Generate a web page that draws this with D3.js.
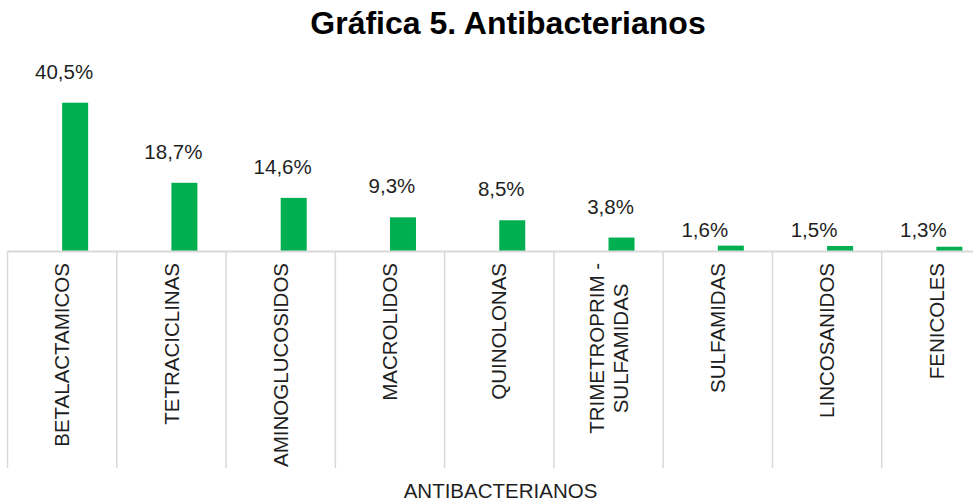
<!DOCTYPE html>
<html>
<head>
<meta charset="utf-8">
<script src="https://cdn.jsdelivr.net/npm/d3@7"></script>
<style>
    body { margin: 0; background: #fff; }
    svg { display: block; font-family: "Liberation Sans", Arial, sans-serif; }
</style>
</head>
<body>
<div id="chart"></div>
<script>
// data
const categories = [
    "BETALACTAMICOS", "TETRACICLINAS", "AMINOGLUCOSIDOS", "MACROLIDOS", "QUINOLONAS",
    "TRIMETROPRIM -\nSULFAMIDAS", "SULFAMIDAS", "LINCOSANIDOS", "FENICOLES"
];
const values = [40.5, 18.7, 14.6, 9.3, 8.5, 3.8, 1.6, 1.5, 1.3];
const title = "Gráfica 5. Antibacterianos";
const axisTitle = "ANTIBACTERIANOS";

const data = categories.map((c, i) => ({ name: c, value: values[i] }));

const width = 973, height = 502;
const baseY = 251.5;
const green = "#00b050", grid = "#d9d9d9", ink = "#1f1f1f";
const fontSize = "20.5px";

// decimal comma
const fmt = d3.formatLocale({ decimal: ",", thousands: ".", grouping: [3], currency: ["", ""] }).format(".1f");

const svg = d3.select("#chart").append("svg")
    .attr("width", width)
    .attr("height", height);

// plot area runs off the right edge, like the original
const x = d3.scaleBand()
    .domain(categories)
    .range([7.5, 991])
    .padding(0);

const y = d3.scaleLinear()
    .domain([0, 45])
    .range([baseY, baseY - 45 * 3.674]);

const bw = x.bandwidth();
const barW = bw * 0.238;

// title
svg.append("text")
    .attr("x", 508)
    .attr("y", 34)
    .attr("text-anchor", "middle")
    .style("font-size", "32px")
    .style("font-weight", "bold")
    .style("fill", "#000")
    .text(title);

// bars sit in the right half of each category slot
svg.append("g")
    .selectAll("rect")
    .data(data)
    .enter().append("rect")
    .attr("x", d => x(d.name) + bw / 2)
    .attr("y", d => y(d.value))
    .attr("width", barW)
    .attr("height", d => baseY - y(d.value))
    .attr("fill", green);

// category separators
const edges = categories.map(c => x(c)).concat([x(categories[categories.length - 1]) + bw]);
svg.append("g")
    .selectAll("line")
    .data(edges)
    .enter().append("line")
    .attr("x1", d => d).attr("x2", d => d)
    .attr("y1", baseY).attr("y2", 468)
    .attr("stroke", grid)
    .attr("stroke-width", 1.5);

// axis line
svg.append("line")
    .attr("x1", x.range()[0]).attr("x2", x.range()[1])
    .attr("y1", baseY).attr("y2", baseY)
    .attr("stroke", grid)
    .attr("stroke-width", 2);

// value labels
svg.append("g")
    .selectAll("text")
    .data(data)
    .enter().append("text")
    .attr("x", d => d.value < 2 ? x(d.name) + bw / 2 - barW / 2 : x(d.name) + bw / 2 + 2)
    .attr("y", d => d.value < 2 ? baseY - 15 : y(d.value) - 24)
    .attr("text-anchor", "middle")
    .style("font-size", fontSize)
    .style("fill", ink)
    .text(d => fmt(d.value) + "%");

// rotated category labels, top aligned just under the axis
const labelTop = 263;
const lineGap = 24;
const labels = svg.append("g")
    .selectAll("g")
    .data(data)
    .enter().append("g");

labels.each(function(d) {
    const lines = d.name.split("\n");
    const g = d3.select(this);
    const texts = lines.map(ln => g.append("text")
        .attr("text-anchor", "middle")
        .attr("dy", "0.35em")
        .style("font-size", fontSize)
        .style("fill", ink)
        .text(ln));
    const maxLen = d3.max(texts, t => t.node().getComputedTextLength());
    const cx = x(d.name) + bw / 2;
    texts.forEach((t, i) => {
        const lx = cx + (i - (lines.length - 1) / 2) * lineGap;
        t.attr("transform", `translate(${lx},${labelTop + maxLen / 2}) rotate(-90)`);
    });
});

// axis title
svg.append("text")
    .attr("x", 500.5)
    .attr("y", 498)
    .attr("text-anchor", "middle")
    .style("font-size", fontSize)
    .style("fill", ink)
    .text(axisTitle);
</script>
</body>
</html>
